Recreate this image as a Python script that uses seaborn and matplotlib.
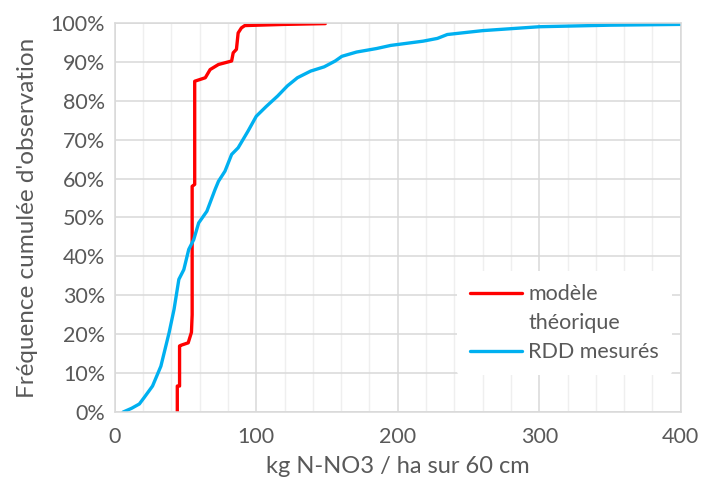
import numpy as np
import pandas as pd
import seaborn as sb
import matplotlib
matplotlib.use('Agg')
from matplotlib import pyplot as plt
from matplotlib.lines import Line2D
from matplotlib.ticker import MultipleLocator, PercentFormatter

# courbe du modele theorique (en escalier)
modele_x = [44.2, 44.2, 45.8, 45.8, 47.0, 51.9, 54.2, 54.7, 54.7, 56.5, 56.5, 64.0,
            67.4, 73.3, 82.6, 83.7, 86.0, 87.2, 89.5, 91.9, 120.0, 148.8]
modele_y = [0, 6.7, 6.7, 17.0, 17.2, 17.8, 20.5, 25.0, 58.0, 58.5, 85.0, 85.9,
            88.0, 89.3, 90.2, 92.3, 93.2, 97.4, 98.7, 99.3, 99.6, 99.8]

# RDD mesures
rdd_x = [5.8, 12.0, 17.4, 20.9, 26.7, 32.6, 38.4, 41.9, 45.3, 48.8, 52.3, 55.8, 59.3,
         65.1, 70.9, 73.3, 77.9, 82.6, 87.2, 94.2, 100.0, 107.0, 115.1, 122.0, 129.1,
         138.4, 148.0, 155.8, 160.5, 170.9, 185.0, 195.0, 218.0, 228.0, 235.0, 260.0,
         300.0, 350.0, 400.0]
rdd_y = [0, 1.0, 2.1, 3.8, 6.7, 11.8, 20.4, 26.4, 34.1, 36.6, 41.8, 44.3, 48.6,
         51.6, 57.2, 59.3, 61.9, 66.2, 67.9, 72.2, 76.0, 78.5, 81.2, 83.8, 85.9,
         87.6, 88.7, 90.2, 91.4, 92.5, 93.4, 94.2, 95.3, 96.0, 97.0, 98.0,
         99.0, 99.4, 99.6]

# "modèle théorique" sur deux lignes, le trait aligné sur la premiere
labels = ['modèle', 'théorique', 'RDD mesurés']

sb.set_style('white')
plt.rcParams['font.family'] = ['Lato', 'DejaVu Sans']
grey = '#595959'

fig = plt.figure(figsize=(7.04, 4.86), dpi=100)
ax = fig.add_axes([0.163, 0.152, 0.804, 0.801])

sb.lineplot(x=modele_x, y=modele_y, sort=False, estimator=None, ax=ax,
            color='#FF0000', linewidth=2.4)
sb.lineplot(x=rdd_x, y=rdd_y, sort=False, estimator=None, ax=ax,
            color='#00B0F0', linewidth=2.4)

ax.set_xlim(0, 400)
ax.set_ylim(0, 100)
ax.xaxis.set_major_locator(MultipleLocator(100))
ax.xaxis.set_minor_locator(MultipleLocator(20))
ax.yaxis.set_major_locator(MultipleLocator(10))
ax.yaxis.set_major_formatter(PercentFormatter(100, decimals=0))

ax.grid(which='major', color='#D9D9D9', linewidth=1.1)
ax.grid(which='minor', axis='x', color='#EFEFEF', linewidth=1.0)
ax.set_axisbelow(True)
for s in ax.spines.values():
    s.set_color('#D9D9D9')
    s.set_linewidth(1.1)

ax.tick_params(axis='both', which='both', length=0, labelsize=15.5, colors=grey)
ax.tick_params(axis='x', pad=11)
ax.tick_params(axis='y', pad=7)
ax.set_xlabel('kg N-NO3 / ha sur 60 cm', fontsize=17, color=grey, labelpad=6)
ax.set_ylabel("Fréquence cumulée d'observation", fontsize=17.5, color=grey, labelpad=9)

lines = ax.get_lines()
handles = [lines[0], Line2D([], [], color='none'), lines[1]]
leg = ax.legend(handles, labels, loc='upper left', bbox_to_anchor=(0.604, 0.362),
                fontsize=15.5, frameon=True, facecolor='white', edgecolor='none',
                framealpha=1, handlelength=2.45, handletextpad=0.28,
                labelspacing=0.42, borderpad=0.6, borderaxespad=0)
for t in leg.get_texts():
    t.set_color(grey)

fig.savefig('out.png', dpi=100)
